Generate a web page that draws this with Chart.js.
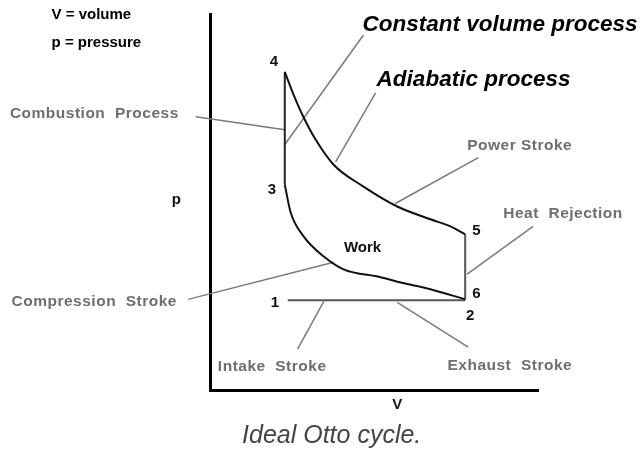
<!DOCTYPE html>
<html>
<head>
<meta charset="utf-8">
<script src="https://cdn.jsdelivr.net/npm/chart.js@4"></script>
<style>
  html, body { margin: 0; padding: 0; background: #fff; }
  canvas { display: block; }
</style>
</head>
<body>
<canvas id="myChart" width="641" height="453"></canvas>
<script>
// cycle states (V, p), arbitrary units
var upperV = [2.28, 2.55, 2.86, 3.22, 3.77, 4.68, 5.71, 6.72, 7.33, 7.78];
var upperP = [8.46, 7.85, 7.24, 6.66, 5.99, 5.41, 4.88, 4.54, 4.35, 4.14];
var lowerV = [2.28, 2.46, 2.86, 3.47, 4.07, 5.20, 5.81, 6.72, 7.78];
var lowerP = [5.46, 4.72, 4.08, 3.55, 3.21, 3.00, 2.86, 2.68, 2.41];
var combustionV = [2.28, 2.28];
var combustionP = [5.46, 8.46];
var rejectionV = [7.78, 7.78];
var rejectionP = [4.14, 2.41];
var intakeV = [2.37, 7.78];
var intakeP = [2.39, 2.39];

// leader lines: [V1, p1, V2, p2]
var leaders = [
    [-0.43, 7.27, 2.28, 6.92],
    [4.68, 9.44, 2.28, 6.53],
    [5.05, 7.90, 3.83, 6.07],
    [8.18, 6.18, 5.65, 4.96],
    [9.85, 4.35, 7.84, 3.08],
    [-0.67, 2.41, 3.77, 3.40],
    [2.67, 1.09, 3.47, 2.36],
    [7.87, 1.14, 5.71, 2.33]
];

// text labels: [text, V, p, style]
var labels = [
    ['V = volume', -4.83, 9.97, 'key'],
    ['p = pressure', -4.83, 9.23, 'key'],
    ['Combustion  Process', -6.10, 7.35, 'grey'],
    ['Constant volume process', 4.65, 9.71, 'big'],
    ['Adiabatic process', 5.08, 8.25, 'big'],
    ['Power Stroke', 7.84, 6.50, 'grey'],
    ['Heat  Rejection', 8.94, 4.69, 'grey'],
    ['Compression  Stroke', -6.05, 2.36, 'grey'],
    ['Intake  Stroke', 0.24, 0.61, 'grey'],
    ['Exhaust  Stroke', 7.24, 0.64, 'grey']
];
var stateNames = ['1', '2', '3', '4', '5', '6', 'Work'];
var stateV = [1.98, 7.93, 1.89, 1.95, 8.12, 8.12, 4.65];
var stateP = [2.33, 1.96, 5.33, 8.73, 4.22, 2.55, 3.79];

function pts(xs, ys) {
    return xs.map(function(v, i) { return {x: v, y: ys[i]}; });
}

var datasets = [
    {data: pts(upperV, upperP), borderColor: '#111', borderWidth: 2, cubicInterpolationMode: 'monotone'},
    {data: pts(lowerV, lowerP), borderColor: '#111', borderWidth: 2, cubicInterpolationMode: 'monotone'},
    {data: pts(combustionV, combustionP), borderColor: '#222', borderWidth: 2},
    {data: pts(rejectionV, rejectionP), borderColor: '#555', borderWidth: 2},
    {data: pts(intakeV, intakeP), borderColor: '#555', borderWidth: 2}
];
leaders.forEach(function(l) {
    datasets.push({data: [{x: l[0], y: l[1]}, {x: l[2], y: l[3]}], borderColor: '#7a7a7a', borderWidth: 1.5});
});
datasets.forEach(function(d) {
    d.showLine = true;
    d.pointRadius = 0;
    d.clip = false;
});

var fonts = {
    key: ['bold 15px "Liberation Sans", Arial, sans-serif', '#000'],
    grey: ['bold 15.5px "Liberation Sans", Arial, sans-serif', '#6e6e6e'],
    big: ['italic bold 22.5px "Liberation Sans", Arial, sans-serif', '#000']
};

var textPlugin = {
    id: 'diagramText',
    afterDatasetsDraw: function(chart) {
        var ctx = chart.ctx, xs = chart.scales.x, ys = chart.scales.y;
        ctx.save();
        ctx.textBaseline = 'middle';
        ctx.textAlign = 'left';
        labels.forEach(function(l) {
            ctx.font = fonts[l[3]][0];
            ctx.fillStyle = fonts[l[3]][1];
            ctx.letterSpacing = l[3] === 'grey' ? '0.5px' : '0px';
            ctx.fillText(l[0], xs.getPixelForValue(l[1]), ys.getPixelForValue(l[2]));
        });
        ctx.letterSpacing = '0px';
        ctx.textAlign = 'center';
        ctx.font = 'bold 15px "Liberation Sans", Arial, sans-serif';
        ctx.fillStyle = '#111';
        stateNames.forEach(function(s, i) {
            ctx.fillText(s, xs.getPixelForValue(stateV[i]), ys.getPixelForValue(stateP[i]));
        });
        // axis names and caption
        ctx.font = 'bold 15px "Liberation Sans", Arial, sans-serif';
        ctx.fillText('p', xs.getPixelForValue(-1.03), ys.getPixelForValue(5.07));
        ctx.fillText('V', xs.getPixelForValue(5.71), ys.getPixelForValue(-0.40));
        ctx.font = 'italic 25px "Liberation Sans", Arial, sans-serif';
        ctx.fillStyle = '#444';
        ctx.fillText('Ideal Otto cycle.', xs.getPixelForValue(3.71), ys.getPixelForValue(-1.22));
        ctx.restore();
    }
};

var axisOpts = {
    type: 'linear',
    min: 0,
    max: 10,
    grid: {display: false, drawTicks: false},
    ticks: {display: false},
    border: {display: true, color: '#000', width: 3}
};

new Chart(document.getElementById('myChart').getContext('2d'), {
    type: 'scatter',
    data: {datasets: datasets},
    options: {
        responsive: false,
        animation: false,
        devicePixelRatio: 1,
        layout: {padding: {left: 210, right: 103, top: 14, bottom: 63}},
        scales: {
            x: Object.assign({position: 'bottom'}, axisOpts),
            y: Object.assign({position: 'left'}, axisOpts)
        },
        plugins: {
            legend: {display: false},
            tooltip: {enabled: false}
        }
    },
    plugins: [textPlugin]
});
</script>
</body>
</html>
